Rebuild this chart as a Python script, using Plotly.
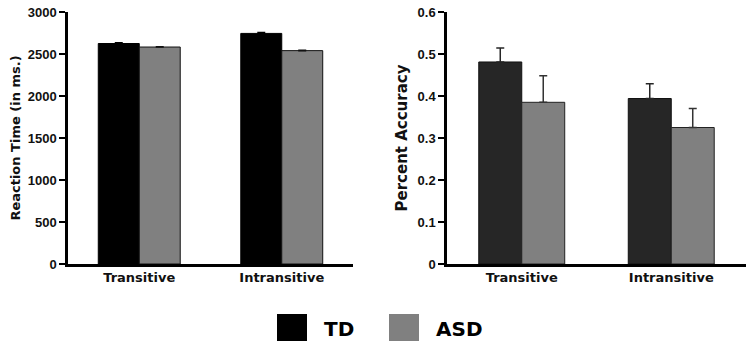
import plotly.graph_objects as go

categories = ["Transitive", "Intransitive"]
groups = ["TD", "ASD"]

rt_td = [2625, 2745]
rt_asd = [2583, 2540]
rt_td_err = [10, 12]
rt_asd_err = [3, 5]

acc_td = [0.481, 0.394]
acc_asd = [0.385, 0.325]
acc_td_err = [0.033, 0.035]
acc_asd_err = [0.063, 0.045]

rt_ticks = [0, 500, 1000, 1500, 2000, 2500, 3000]
acc_ticks = [0, 0.1, 0.2, 0.3, 0.4, 0.5, 0.6]

W, H = 751, 351
T, B = 12, 87
PH = H - T - B

fig = go.Figure()

def err(vals, color):
    return dict(type="data", array=vals, symmetric=False, arrayminus=[0] * len(vals),
                color=color, thickness=1.5, width=4, visible=True)

fig.add_trace(go.Bar(x=categories, y=rt_td, name="TD", marker=dict(color="#000000", line=dict(color="#000000", width=1)),
                     error_y=err(rt_td_err, "#000000"), xaxis="x", yaxis="y", showlegend=False))
fig.add_trace(go.Bar(x=categories, y=rt_asd, name="ASD", marker=dict(color="#808080", line=dict(color="#111111", width=1)),
                     error_y=err(rt_asd_err, "#111111"), xaxis="x", yaxis="y", showlegend=False))
fig.add_trace(go.Bar(x=categories, y=acc_td, name="TD", marker=dict(color="#262626", line=dict(color="#111111", width=1)),
                     error_y=err(acc_td_err, "#262626"), xaxis="x2", yaxis="y2", showlegend=False))
fig.add_trace(go.Bar(x=categories, y=acc_asd, name="ASD", marker=dict(color="#808080", line=dict(color="#222222", width=1)),
                     error_y=err(acc_asd_err, "#333333"), xaxis="x2", yaxis="y2", showlegend=False))

tickfont = dict(family="Liberation Sans, Arial", size=13, color="#111111", weight="bold")
catfont = dict(family="DejaVu Sans, Verdana", size=13, color="#111111", weight="bold")

xcommon = dict(showline=True, linecolor="#000000", linewidth=2.5, ticks="", showgrid=False,
               tickfont=catfont, zeroline=False, range=[-0.5, 1.5], automargin=False)
ycommon = dict(showline=True, linecolor="#000000", linewidth=2.5, ticks="outside", ticklen=6, tickwidth=2,
               tickcolor="#000000", showgrid=False, zeroline=False, tickfont=tickfont, automargin=False)

fig.update_layout(
    width=W, height=H,
    margin=dict(l=0, r=0, t=T, b=B),
    paper_bgcolor="white", plot_bgcolor="white",
    barmode="group", bargap=0.425, bargroupgap=0,
    showlegend=False,
    xaxis=dict(domain=[68 / W, 353 / W], anchor="y", **xcommon),
    yaxis=dict(domain=[0, 1], anchor="x", range=[0, 3000], tickvals=rt_ticks,
               title=dict(text="Reaction Time (in ms.)",
                          font=dict(family="DejaVu Sans, Verdana", size=13, color="#111111", weight="bold"),
                          standoff=5), **ycommon),
    xaxis2=dict(domain=[447 / W, 746 / W], anchor="y2", **xcommon),
    yaxis2=dict(domain=[0, 1], anchor="x2", range=[0, 0.6], tickvals=acc_ticks,
                ticktext=[("0" if v == 0 else f"{v:g}") for v in acc_ticks],
                title=dict(text="Percent Accuracy",
                           font=dict(family="DejaVu Sans, Verdana", size=15, color="#111111", weight="bold"),
                           standoff=7), **ycommon),
)

# Legend drawn below the panels (paper y is relative to the plot area)
def py(pix):
    return (H - B - pix) / PH

legend_colors = ["#000000", "#808080"]
legend_x = [277, 389]
for g, c, x0 in zip(groups, legend_colors, legend_x):
    fig.add_shape(type="rect", xref="paper", yref="paper",
                  x0=x0 / W, x1=(x0 + 30) / W, y0=py(341), y1=py(314),
                  fillcolor=c, line=dict(width=0))
    fig.add_annotation(text=g, xref="paper", yref="paper", x=(x0 + 45) / W, y=py(329),
                       xanchor="left", yanchor="middle", showarrow=False,
                       font=dict(family="DejaVu Sans, Verdana", size=20, color="#000000", weight="bold"))

fig.write_html("out.html", config={"displayModeBar": False},
               post_script="document.body.style.margin='0';document.body.style.overflow='hidden';")
